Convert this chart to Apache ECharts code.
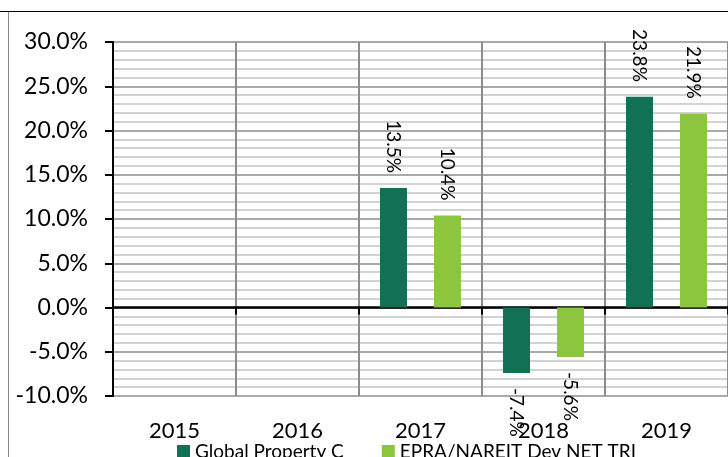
<!DOCTYPE html>
<html>
<head>
<meta charset="utf-8">
<script src="https://cdn.jsdelivr.net/npm/echarts@6/dist/echarts.min.js"></script>
<style>
  html, body { margin: 0; padding: 0; background: #fff; }
  #main { width: 728px; height: 457px; }
</style>
</head>
<body>
<div id="main"></div>
<script>
// values
const years = ['2015', '2016', '2017', '2018', '2019'];
const fundValues = [null, null, 13.5, -7.4, 23.8];
const indexValues = [null, null, 10.4, -5.6, 21.9];
const seriesNames = ['Global Property C', 'EPRA/NAREIT Dev NET TRI'];
const colors = ['#127155', '#8cc63f'];

const FONT = 'Lato';

function withLabels(vals) {
  return vals.map(function (v) {
    if (v === null) return null;
    const neg = v < 0;
    return {
      value: v,
      label: {
        position: neg ? 'bottom' : 'top',
        align: neg ? 'left' : 'right',
        verticalAlign: 'middle'
      }
    };
  });
}

function barSeries(i, vals) {
  return {
    name: seriesNames[i],
    type: 'bar',
    barWidth: 27,
    barGap: '100%',
    itemStyle: { color: colors[i] },
    label: {
      show: true,
      rotate: -90,
      distance: 15,
      color: '#000',
      fontFamily: FONT,
      fontSize: 19,
      formatter: function (p) { return p.value.toFixed(1) + '%'; }
    },
    data: withLabels(vals)
  };
}

const chart = echarts.init(document.getElementById('main'));
chart.setOption({
  animation: false,
  backgroundColor: '#fff',
  graphic: [
    { type: 'line', shape: { x1: 0, y1: 11.5, x2: 728, y2: 11.5 }, style: { stroke: '#000', lineWidth: 1 } },
    { type: 'line', shape: { x1: 8.5, y1: 12, x2: 8.5, y2: 457 }, style: { stroke: '#888', lineWidth: 1 } }
  ],
  grid: { left: 113, top: 42, right: -5, bottom: 61 },
  legend: {
    left: 177,
    top: 442,
    padding: 0,
    itemWidth: 13,
    itemHeight: 13,
    itemGap: 38,
    icon: 'rect',
    textStyle: { fontFamily: FONT, fontSize: 19, color: '#000' },
    data: seriesNames
  },
  xAxis: [{
    type: 'category',
    data: years,
    position: 'bottom',
    axisLine: { show: false, onZero: false },
    axisTick: { show: false },
    axisLabel: { color: '#000', fontFamily: FONT, fontSize: 22, margin: 24 },
    splitLine: { show: true, lineStyle: { color: '#8c8c8c', width: 2 } }
  }, {
    type: 'category',
    data: years,
    position: 'bottom',
    axisLine: { show: true, onZero: true, lineStyle: { color: '#000', width: 2.5 } },
    axisTick: { show: true, length: 7, lineStyle: { color: '#000', width: 2 } },
    axisLabel: { show: false },
    splitLine: { show: false }
  }],
  yAxis: {
    type: 'value',
    min: -10,
    max: 30,
    interval: 5,
    axisLine: { show: true, lineStyle: { color: '#000', width: 2 } },
    axisTick: { show: true, length: 8, lineStyle: { color: '#000', width: 2 } },
    axisLabel: {
      color: '#000', fontFamily: FONT, fontSize: 23, margin: 25,
      formatter: function (v) { return v.toFixed(1) + '%'; }
    },
    splitLine: { show: true, lineStyle: { color: '#8c8c8c', width: 1.5 } },
    minorTick: { show: false, splitNumber: 5 },
    minorSplitLine: { show: true, lineStyle: { color: '#c4c4c4', width: 1.5 } }
  },
  series: [
    barSeries(0, fundValues),
    barSeries(1, indexValues)
  ]
});
</script>
</body>
</html>
